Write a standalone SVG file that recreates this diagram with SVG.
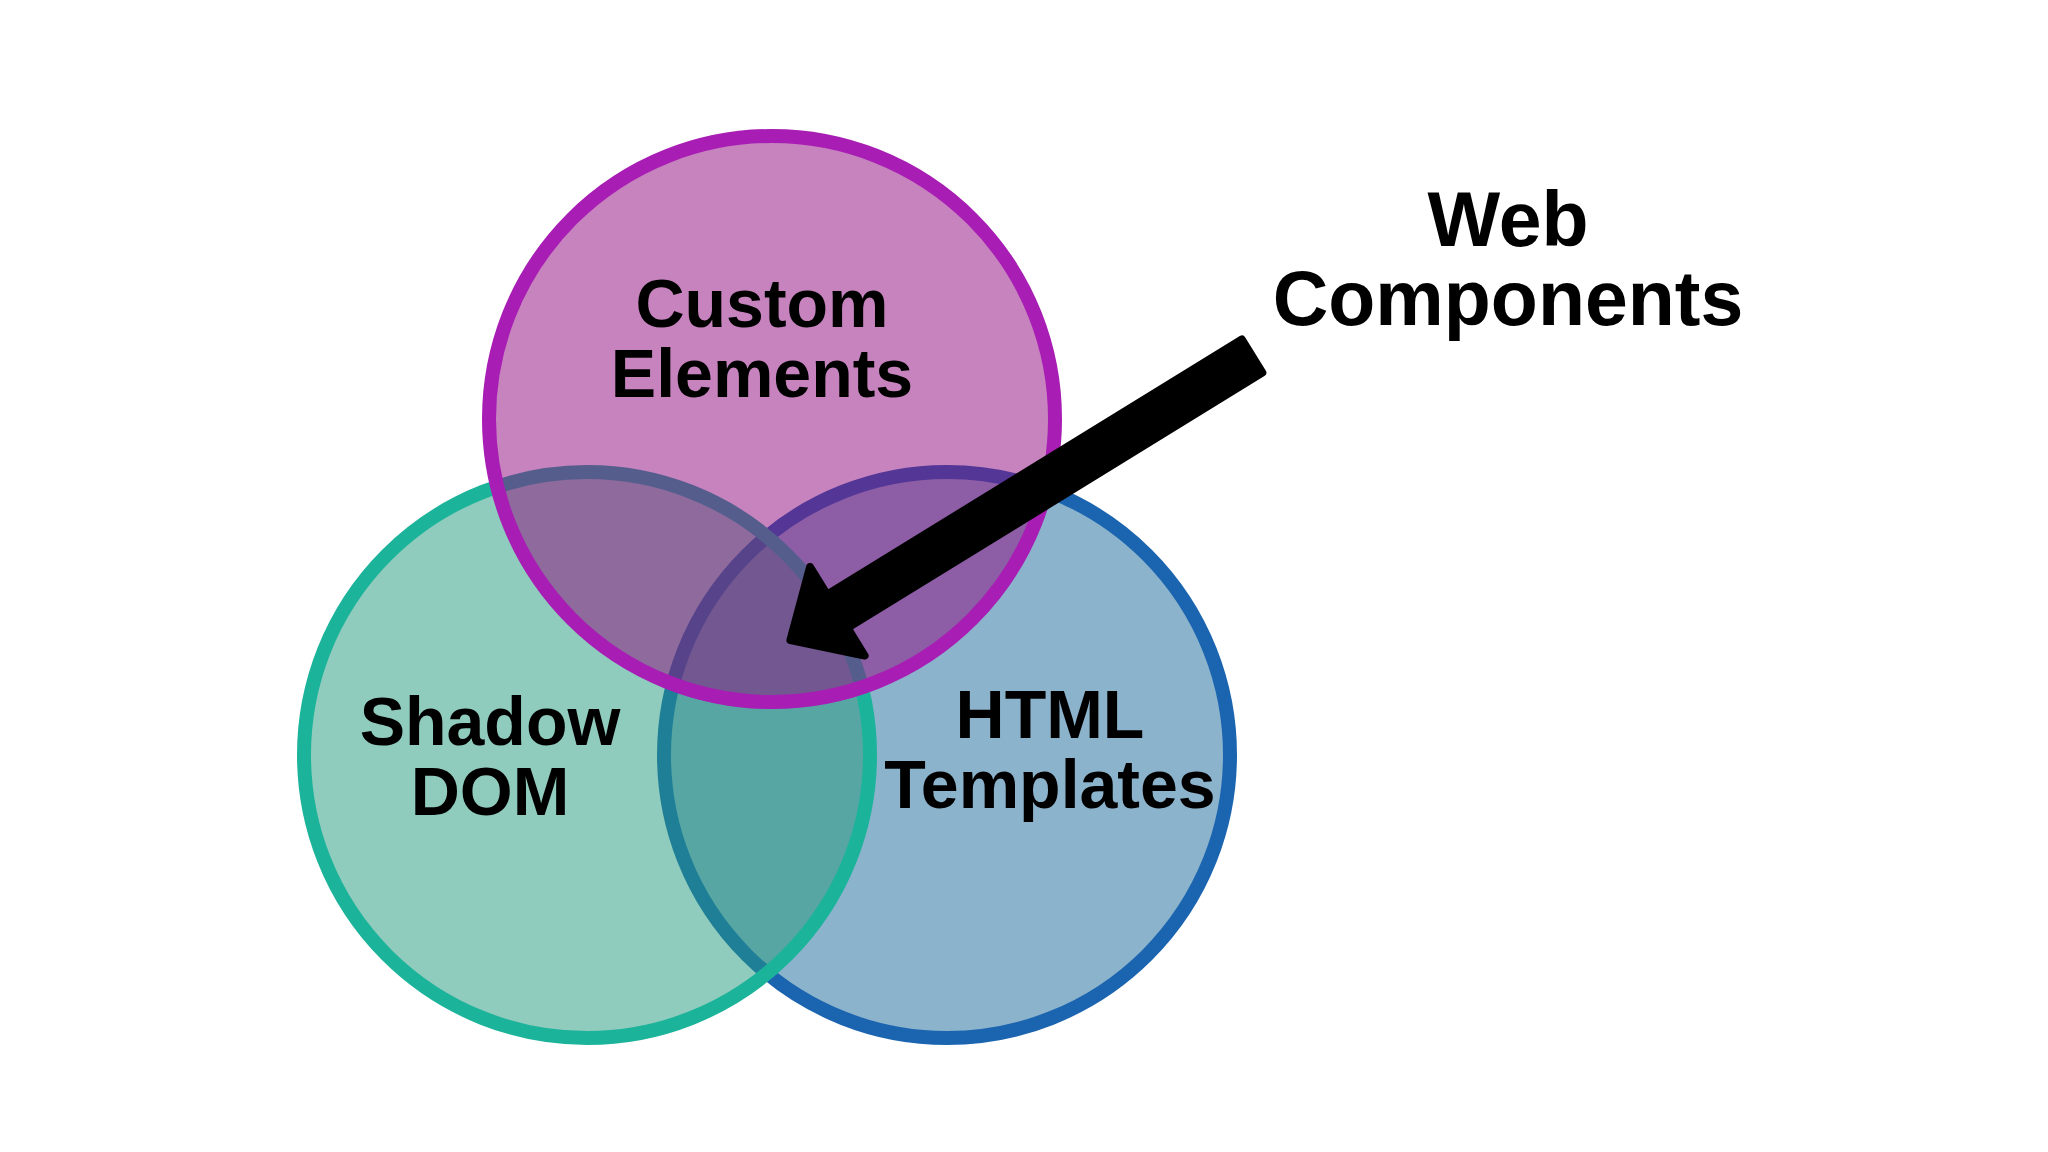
<svg xmlns="http://www.w3.org/2000/svg" width="2048" height="1152" viewBox="0 0 2048 1152">
  <style>
    .lbl { font-family: "Liberation Sans", Arial, sans-serif; font-weight: bold; fill: #000; text-anchor: middle; }
    .node { font-size: 68px; }
    .title { font-size: 77px; }
    .ring { stroke-width: 14; }
    .arrow { fill: #000; stroke: #000; stroke-width: 8; stroke-linejoin: round; }
  </style>
  <rect width="2048" height="1152" fill="#ffffff"/>

  <g id="html-templates">
    <circle class="ring" cx="947" cy="755" r="283" fill="rgb(25,103,153)" fill-opacity="0.5" stroke="#1b65b0"/>
  </g>
  <g id="shadow-dom">
    <circle class="ring" cx="587" cy="755" r="283" fill="rgb(33,153,123)" fill-opacity="0.5" stroke="#1cb39b"/>
  </g>
  <g id="custom-elements">
    <circle class="ring" cx="772" cy="419" r="283" fill="rgb(141,7,125)" fill-opacity="0.5" stroke="#a81db4"/>
  </g>

  <g id="labels">
    <text class="lbl node" x="762" y="327">Custom</text>
    <text class="lbl node" x="762" y="397">Elements</text>
    <text class="lbl node" x="490" y="745">Shadow</text>
    <text class="lbl node" x="490" y="815">DOM</text>
    <text class="lbl node" x="1050" y="738">HTML</text>
    <text class="lbl node" x="1050" y="808">Templates</text>
  </g>

  <g id="web-components">
    <text class="lbl title" x="1508" y="246">Web</text>
    <text class="lbl title" x="1508" y="325">Components</text>
  </g>

  <g id="connectors">
    <path class="arrow" transform="translate(1255.5 354) rotate(148.4)" d="M 4 -19.5 L 491 -19.5 L 491 -52 L 546 0 L 491 52 L 491 19.5 L 4 19.5 Z"/>
  </g>
</svg>
